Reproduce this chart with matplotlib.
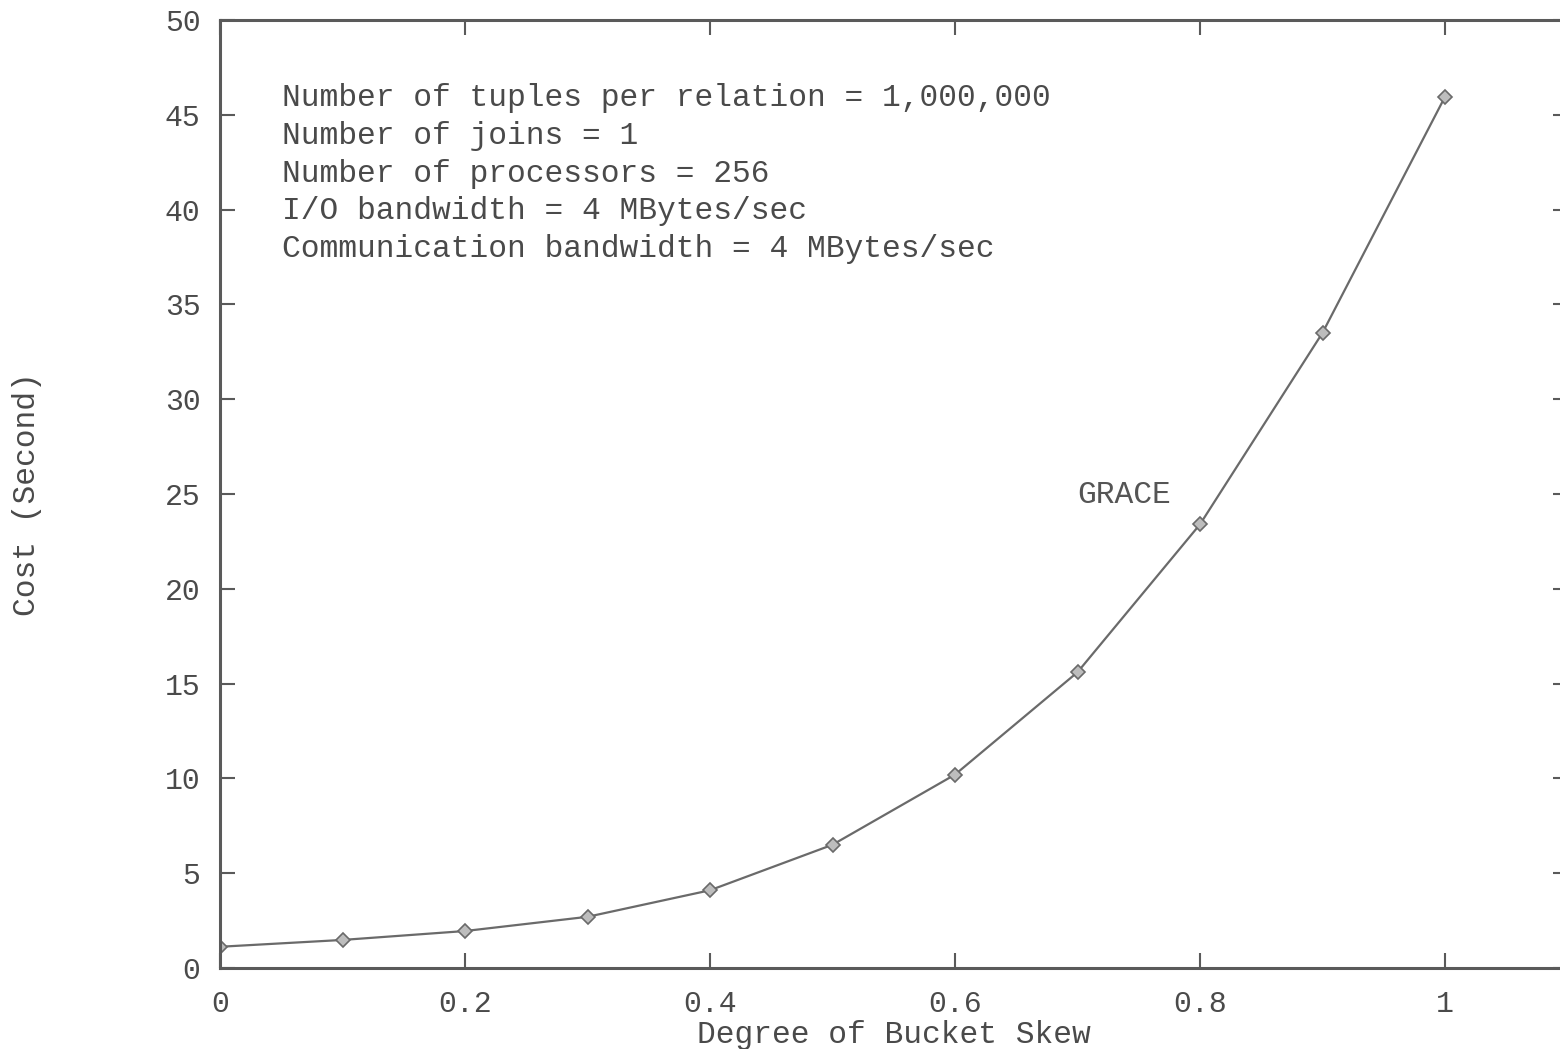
import matplotlib
matplotlib.use("Agg")
import matplotlib.pyplot as plt

skew = [0.0, 0.1, 0.2, 0.3, 0.4, 0.5, 0.6, 0.7, 0.8, 0.9, 1.0]
cost = [1.12, 1.48, 1.95, 2.7, 4.1, 6.5, 10.2, 15.6, 23.4, 33.5, 45.95]
xticks = [0, 0.2, 0.4, 0.6, 0.8, 1]
xticklabels = ["0", "0.2", "0.4", "0.6", "0.8", "1"]
yticks = [0, 5, 10, 15, 20, 25, 30, 35, 40, 45, 50]
info_lines = [
    "Number of tuples per relation = 1,000,000",
    "Number of joins = 1",
    "Number of processors = 256",
    "I/O bandwidth = 4 MBytes/sec",
    "Communication bandwidth = 4 MBytes/sec",
]
series_label = "GRACE"

plt.rcParams['font.family'] = ['Liberation Mono', 'DejaVu Sans Mono']
txt = '#4a4a4a'
fs = 22.5

fig = plt.figure(figsize=(15.6, 10.49), dpi=100)
ax = fig.add_axes([220/1560, 81/1049, 1347.5/1560, 948/1049])

ax.plot(skew, cost, color='#6a6a6a', lw=1.6, marker='D', markersize=7,
        markerfacecolor='#bdbdbd', markeredgecolor='#6a6a6a', markeredgewidth=1.2)

ax.set_xlim(0, 1.1)
ax.set_ylim(0, 50)
ax.set_xticks(xticks)
ax.set_xticklabels(xticklabels)
ax.set_yticks(yticks)

for s in ax.spines.values():
    s.set_color('#5a5a5a')
    s.set_linewidth(2.2)

ax.tick_params(direction='in', length=11, width=1.5, color='#5a5a5a',
               top=True, right=True, labelsize=21.5, labelcolor=txt, pad=14)
ax.tick_params(axis='x', pad=16)

ax.set_xlabel("Degree of Bucket Skew", fontsize=fs, color=txt, labelpad=1)
ax.set_ylabel("Cost (Second)", fontsize=fs, color=txt)
ax.yaxis.set_label_coords(-0.132, 0.5)

for i, line in enumerate(info_lines):
    ax.text(0.0506, 45.9 - 2.0 * i, line, fontsize=fs, color=txt,
            va='center', ha='left')
ax.text(0.70, 24.95, series_label, fontsize=fs, color='#555555', va='center', ha='left')

fig.savefig("out.png", dpi=100)
